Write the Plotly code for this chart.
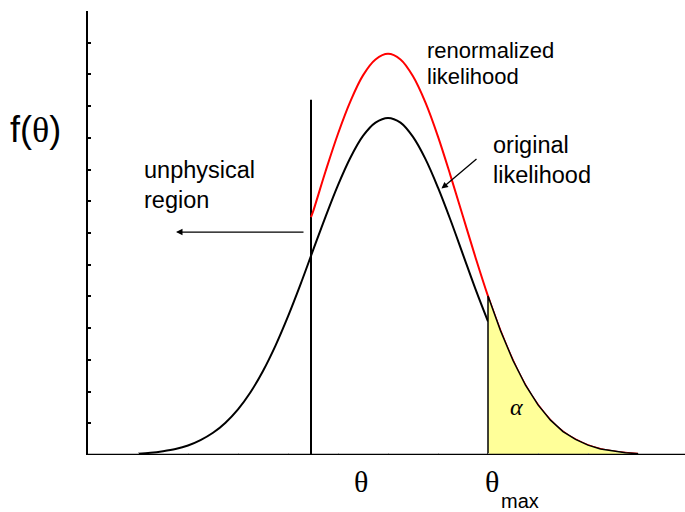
import plotly.graph_objects as go

# original likelihood f(theta), drawn up to theta_max
theta_orig = [1.0, 1.25, 1.5, 1.75, 2.0, 2.25, 2.5, 2.75, 3.0, 3.25, 3.5, 3.75,
              4.0, 4.25, 4.5, 4.75, 5.0, 5.25, 5.5, 5.75, 6.0, 6.25, 6.5, 6.75,
              7.0, 7.25, 7.5, 7.75, 8.0]
f_orig = [0.04, 0.07, 0.12, 0.19, 0.30, 0.47, 0.70, 1.02, 1.44, 1.98, 2.65, 3.45,
          4.37, 5.38, 6.45, 7.51, 8.51, 9.38, 10.06, 10.48, 10.63, 10.48, 10.03, 9.33,
          8.43, 7.41, 6.32, 5.23, 4.21]

# renormalized likelihood, physical region only
theta_renorm = [4.46, 4.5, 4.75, 5.0, 5.25, 5.5, 5.75, 6.0, 6.25, 6.5, 6.75, 7.0,
                7.25, 7.5, 7.75, 8.0, 8.25, 8.5, 8.75, 9.0, 9.25, 9.5, 9.75, 10.0,
                10.25, 10.5, 10.75, 11.0]
f_renorm = [7.50, 7.67, 8.94, 10.13, 11.16, 11.97, 12.47, 12.65, 12.47, 11.94, 11.11, 10.04,
            8.81, 7.52, 6.23, 5.01, 3.92, 2.98, 2.20, 1.58, 1.10, 0.74, 0.49, 0.31,
            0.19, 0.12, 0.07, 0.04]

theta_phys = 4.46      # physical boundary
boundary_top = 11.2
theta_max = 8.0

x_range = [0, 11.94]
y_range = [0, 14]

FONT = "Liberation Sans, Arial, sans-serif"
SERIF = "Liberation Serif, Times New Roman, serif"

fig = go.Figure()

# physical boundary
fig.add_trace(go.Scatter(x=[theta_phys, theta_phys], y=[0, boundary_top], mode="lines",
                         line=dict(color="black", width=2), hoverinfo="skip"))

# original likelihood
fig.add_trace(go.Scatter(x=theta_orig, y=f_orig, mode="lines", line_shape="spline",
                         line=dict(color="black", width=2), hoverinfo="skip"))

# renormalized likelihood
fig.add_trace(go.Scatter(x=theta_renorm, y=f_renorm, mode="lines", line_shape="spline",
                         line=dict(color="red", width=2), hoverinfo="skip"))

# tail area alpha above theta_max
tail_x = [t for t in theta_renorm if t >= theta_max]
tail_y = [f for t, f in zip(theta_renorm, f_renorm) if t >= theta_max]
fig.add_trace(go.Scatter(x=[theta_max] + tail_x + [tail_x[-1], theta_max],
                         y=[0] + tail_y + [0, 0], mode="lines", fill="toself",
                         fillcolor="#FFFF99", line=dict(color="black", width=1.5),
                         hoverinfo="skip"))

# horizontal axis line
fig.add_shape(type="line", xref="x", yref="y", x0=-0.1, x1=x_range[1], y0=0, y1=0,
              line=dict(color="black", width=2.5))

def label(text, x, y, size, xanchor="left", family=FONT, ref="data"):
    r = ("x", "y") if ref == "data" else ("paper", "paper")
    fig.add_annotation(text=text, x=x, y=y, xref=r[0], yref=r[1], showarrow=False,
                       xanchor=xanchor, yanchor="middle",
                       font=dict(family=family, size=size, color="black"))

label("renormalized", 6.74, 12.77, 22)
label("likelihood", 6.74, 11.95, 22)
label("original", 8.06, 9.78, 23.5)
label("likelihood", 8.06, 8.83, 23.5)
label("unphysical", 1.08, 8.99, 23.5)
label("region", 1.08, 8.04, 23.5)
label("<i>α</i>", 8.56, 1.51, 24, xanchor="center", family=SERIF)

# labels outside the plotting area
label("f(<span style='font-family:Liberation Serif'>θ</span>)", -0.1340, 0.7320, 36,
      ref="paper")
label("θ", 0.4565, -0.0586, 30, xanchor="center", family=SERIF, ref="paper")
label("θ", 0.6767, -0.0586, 30, xanchor="center", family=SERIF, ref="paper")
label("max", 0.6890, -0.1036, 20, ref="paper")

# arrows
fig.add_annotation(x=1.76, y=7.03, ax=4.34, ay=7.03, xref="x", yref="y",
                   axref="x", ayref="y", text="", showarrow=True, arrowhead=2,
                   arrowsize=1, arrowwidth=1.3, arrowcolor="black")
fig.add_annotation(x=7.07, y=8.4, ax=7.8, ay=9.37, xref="x", yref="y",
                   axref="x", ayref="y", text="", showarrow=True, arrowhead=2,
                   arrowsize=1, arrowwidth=1.3, arrowcolor="black")

fig.update_layout(
    width=685, height=512, margin=dict(l=88, r=0, t=11, b=57),
    paper_bgcolor="white", plot_bgcolor="white", showlegend=False,
    xaxis=dict(range=x_range, showgrid=False, zeroline=False, showline=False,
               ticks="inside", tick0=0, dtick=1, ticklen=2, tickwidth=1,
               tickcolor="#cccccc", showticklabels=False, fixedrange=True),
    yaxis=dict(range=y_range, showgrid=False, zeroline=False, showline=True,
               linecolor="black", linewidth=2, ticks="inside", tick0=0, dtick=1,
               ticklen=3, tickwidth=1.5, tickcolor="black", showticklabels=False,
               fixedrange=True),
)

fig.write_html("out.html")
